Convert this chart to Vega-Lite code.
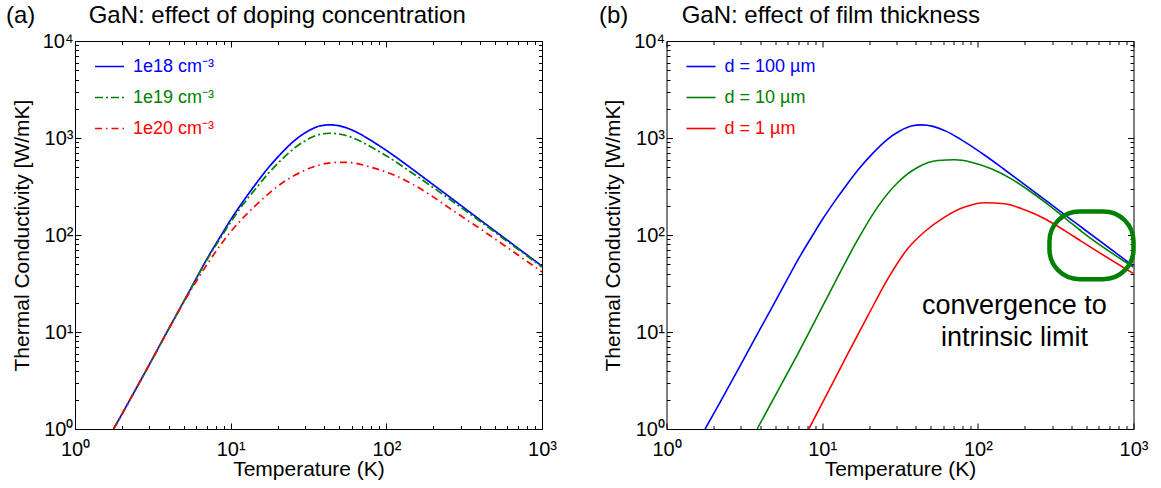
{
  "$schema": "https://vega.github.io/schema/vega-lite/v6.json",
  "padding": {"left": 5, "top": 3, "right": 0, "bottom": 0},
  "background": "white",
  "config": {
    "font": "Liberation Sans",
    "view": {"stroke": "black", "strokeWidth": 1},
    "axis": {"domain": false, "grid": false, "labelFont": "Liberation Sans", "labelFontSize": 20, "labelColor": "black", "tickColor": "black", "tickWidth": 1, "titleFont": "Liberation Sans", "titleFontSize": 21, "titleFontWeight": "normal", "titleColor": "black", "labelFlush": false, "labelOverlap": false, "labelBound": false},
    "legend": {"title": null, "orient": "none", "legendX": 19, "legendY": 10, "symbolType": "stroke", "symbolSize": 841, "symbolStrokeWidth": 1.6, "labelFont": "Liberation Sans", "labelFontSize": 18, "labelOffset": 8, "rowPadding": 6, "padding": 0},
    "title": {"font": "Liberation Sans", "fontSize": 24, "fontWeight": "normal", "color": "black", "anchor": "start", "frame": "group", "baseline": "alphabetic", "offset": 3}
  },
  "datasets": {
    "a": [
      {"s": "1e18 cm⁻³", "T": 1.77, "k": 1.0}, {"s": "1e18 cm⁻³", "T": 2.18, "k": 1.82}, {"s": "1e18 cm⁻³", "T": 2.94, "k": 4.34}, {"s": "1e18 cm⁻³", "T": 3.95, "k": 10.4}, {"s": "1e18 cm⁻³", "T": 5.32, "k": 24.8}, {"s": "1e18 cm⁻³", "T": 7.15, "k": 59.1}, {"s": "1e18 cm⁻³", "T": 8.71, "k": 100}, {"s": "1e18 cm⁻³", "T": 10.1, "k": 147}, {"s": "1e18 cm⁻³", "T": 12.0, "k": 221}, {"s": "1e18 cm⁻³", "T": 14.3, "k": 326}, {"s": "1e18 cm⁻³", "T": 17.4, "k": 490}, {"s": "1e18 cm⁻³", "T": 21.2, "k": 698}, {"s": "1e18 cm⁻³", "T": 25.8, "k": 947}, {"s": "1e18 cm⁻³", "T": 31.5, "k": 1180}, {"s": "1e18 cm⁻³", "T": 37.4, "k": 1330}, {"s": "1e18 cm⁻³", "T": 43.4, "k": 1365}, {"s": "1e18 cm⁻³", "T": 51.6, "k": 1318}, {"s": "1e18 cm⁻³", "T": 62.9, "k": 1170}, {"s": "1e18 cm⁻³", "T": 76.7, "k": 979}, {"s": "1e18 cm⁻³", "T": 93.4, "k": 801}, {"s": "1e18 cm⁻³", "T": 113.8, "k": 645}, {"s": "1e18 cm⁻³", "T": 145.8, "k": 482}, {"s": "1e18 cm⁻³", "T": 186.6, "k": 359}, {"s": "1e18 cm⁻³", "T": 238.9, "k": 267}, {"s": "1e18 cm⁻³", "T": 305.9, "k": 198}, {"s": "1e18 cm⁻³", "T": 391.6, "k": 147}, {"s": "1e18 cm⁻³", "T": 477, "k": 116}, {"s": "1e18 cm⁻³", "T": 1000, "k": 47.8},
      {"s": "1e19 cm⁻³", "T": 1.77, "k": 1.0}, {"s": "1e19 cm⁻³", "T": 2.18, "k": 1.82}, {"s": "1e19 cm⁻³", "T": 2.94, "k": 4.34}, {"s": "1e19 cm⁻³", "T": 3.95, "k": 10.4}, {"s": "1e19 cm⁻³", "T": 5.32, "k": 24.7}, {"s": "1e19 cm⁻³", "T": 7.15, "k": 58}, {"s": "1e19 cm⁻³", "T": 8.71, "k": 96}, {"s": "1e19 cm⁻³", "T": 10.1, "k": 139}, {"s": "1e19 cm⁻³", "T": 12.0, "k": 206}, {"s": "1e19 cm⁻³", "T": 14.3, "k": 293}, {"s": "1e19 cm⁻³", "T": 17.4, "k": 429}, {"s": "1e19 cm⁻³", "T": 21.2, "k": 597}, {"s": "1e19 cm⁻³", "T": 25.8, "k": 791}, {"s": "1e19 cm⁻³", "T": 31.5, "k": 974}, {"s": "1e19 cm⁻³", "T": 37.4, "k": 1091}, {"s": "1e19 cm⁻³", "T": 43.4, "k": 1119}, {"s": "1e19 cm⁻³", "T": 51.6, "k": 1087}, {"s": "1e19 cm⁻³", "T": 62.9, "k": 983}, {"s": "1e19 cm⁻³", "T": 76.7, "k": 837}, {"s": "1e19 cm⁻³", "T": 93.4, "k": 701}, {"s": "1e19 cm⁻³", "T": 113.8, "k": 574}, {"s": "1e19 cm⁻³", "T": 145.8, "k": 439}, {"s": "1e19 cm⁻³", "T": 186.6, "k": 334}, {"s": "1e19 cm⁻³", "T": 238.9, "k": 252}, {"s": "1e19 cm⁻³", "T": 305.9, "k": 189}, {"s": "1e19 cm⁻³", "T": 391.6, "k": 142}, {"s": "1e19 cm⁻³", "T": 477, "k": 112.5}, {"s": "1e19 cm⁻³", "T": 1000, "k": 46.8},
      {"s": "1e20 cm⁻³", "T": 1.77, "k": 1.0}, {"s": "1e20 cm⁻³", "T": 2.18, "k": 1.82}, {"s": "1e20 cm⁻³", "T": 2.94, "k": 4.33}, {"s": "1e20 cm⁻³", "T": 3.95, "k": 10.3}, {"s": "1e20 cm⁻³", "T": 5.32, "k": 24.0}, {"s": "1e20 cm⁻³", "T": 6.17, "k": 35.5}, {"s": "1e20 cm⁻³", "T": 7.15, "k": 51.5}, {"s": "1e20 cm⁻³", "T": 8.71, "k": 81}, {"s": "1e20 cm⁻³", "T": 10.1, "k": 110}, {"s": "1e20 cm⁻³", "T": 12.0, "k": 150}, {"s": "1e20 cm⁻³", "T": 14.3, "k": 198}, {"s": "1e20 cm⁻³", "T": 17.4, "k": 264}, {"s": "1e20 cm⁻³", "T": 21.2, "k": 340}, {"s": "1e20 cm⁻³", "T": 25.8, "k": 413}, {"s": "1e20 cm⁻³", "T": 31.5, "k": 481}, {"s": "1e20 cm⁻³", "T": 37.4, "k": 528}, {"s": "1e20 cm⁻³", "T": 43.4, "k": 555}, {"s": "1e20 cm⁻³", "T": 51.6, "k": 562}, {"s": "1e20 cm⁻³", "T": 62.9, "k": 550}, {"s": "1e20 cm⁻³", "T": 76.7, "k": 508}, {"s": "1e20 cm⁻³", "T": 93.4, "k": 462}, {"s": "1e20 cm⁻³", "T": 113.8, "k": 411}, {"s": "1e20 cm⁻³", "T": 145.8, "k": 337}, {"s": "1e20 cm⁻³", "T": 186.6, "k": 266}, {"s": "1e20 cm⁻³", "T": 238.9, "k": 203}, {"s": "1e20 cm⁻³", "T": 305.9, "k": 155}, {"s": "1e20 cm⁻³", "T": 391.6, "k": 119}, {"s": "1e20 cm⁻³", "T": 477, "k": 95.7}, {"s": "1e20 cm⁻³", "T": 1000, "k": 41.6}
    ],
    "b": [
      {"s": "d = 100 µm", "T": 1.77, "k": 1.0}, {"s": "d = 100 µm", "T": 2.18, "k": 1.82}, {"s": "d = 100 µm", "T": 2.94, "k": 4.34}, {"s": "d = 100 µm", "T": 3.95, "k": 10.4}, {"s": "d = 100 µm", "T": 5.32, "k": 24.8}, {"s": "d = 100 µm", "T": 7.15, "k": 59.1}, {"s": "d = 100 µm", "T": 8.71, "k": 100}, {"s": "d = 100 µm", "T": 10.1, "k": 147}, {"s": "d = 100 µm", "T": 12.0, "k": 221}, {"s": "d = 100 µm", "T": 14.3, "k": 326}, {"s": "d = 100 µm", "T": 17.4, "k": 490}, {"s": "d = 100 µm", "T": 21.2, "k": 698}, {"s": "d = 100 µm", "T": 25.8, "k": 947}, {"s": "d = 100 µm", "T": 31.5, "k": 1180}, {"s": "d = 100 µm", "T": 37.4, "k": 1330}, {"s": "d = 100 µm", "T": 43.4, "k": 1365}, {"s": "d = 100 µm", "T": 51.6, "k": 1318}, {"s": "d = 100 µm", "T": 62.9, "k": 1170}, {"s": "d = 100 µm", "T": 76.7, "k": 979}, {"s": "d = 100 µm", "T": 93.4, "k": 801}, {"s": "d = 100 µm", "T": 113.8, "k": 645}, {"s": "d = 100 µm", "T": 145.8, "k": 482}, {"s": "d = 100 µm", "T": 186.6, "k": 359}, {"s": "d = 100 µm", "T": 238.9, "k": 267}, {"s": "d = 100 µm", "T": 305.9, "k": 198}, {"s": "d = 100 µm", "T": 391.6, "k": 147}, {"s": "d = 100 µm", "T": 477, "k": 116}, {"s": "d = 100 µm", "T": 1000, "k": 47.8},
      {"s": "d = 10 µm", "T": 3.82, "k": 1.0}, {"s": "d = 10 µm", "T": 5.19, "k": 2.47}, {"s": "d = 10 µm", "T": 6.98, "k": 5.96}, {"s": "d = 10 µm", "T": 9.38, "k": 14.8}, {"s": "d = 10 µm", "T": 12.6, "k": 37}, {"s": "d = 10 µm", "T": 16.96, "k": 90}, {"s": "d = 10 µm", "T": 22.8, "k": 196}, {"s": "d = 10 µm", "T": 30.7, "k": 350}, {"s": "d = 10 µm", "T": 41.2, "k": 500}, {"s": "d = 10 µm", "T": 55.4, "k": 586}, {"s": "d = 10 µm", "T": 71, "k": 596}, {"s": "d = 10 µm", "T": 90.8, "k": 563}, {"s": "d = 10 µm", "T": 122, "k": 481}, {"s": "d = 10 µm", "T": 164, "k": 379}, {"s": "d = 10 µm", "T": 221, "k": 276}, {"s": "d = 10 µm", "T": 297, "k": 194}, {"s": "d = 10 µm", "T": 380, "k": 141}, {"s": "d = 10 µm", "T": 463, "k": 109}, {"s": "d = 10 µm", "T": 1000, "k": 46.5},
      {"s": "d = 1 µm", "T": 8.21, "k": 1.0}, {"s": "d = 1 µm", "T": 10.9, "k": 2.4}, {"s": "d = 1 µm", "T": 14.6, "k": 5.96}, {"s": "d = 1 µm", "T": 19.7, "k": 14.8}, {"s": "d = 1 µm", "T": 26.4, "k": 35.3}, {"s": "d = 1 µm", "T": 35.6, "k": 73}, {"s": "d = 1 µm", "T": 45.5, "k": 108}, {"s": "d = 1 µm", "T": 61.2, "k": 153}, {"s": "d = 1 µm", "T": 82.3, "k": 194}, {"s": "d = 1 µm", "T": 110.7, "k": 215}, {"s": "d = 1 µm", "T": 148.8, "k": 210}, {"s": "d = 1 µm", "T": 200, "k": 182}, {"s": "d = 1 µm", "T": 269, "k": 147}, {"s": "d = 1 µm", "T": 362, "k": 111}, {"s": "d = 1 µm", "T": 463, "k": 86}, {"s": "d = 1 µm", "T": 1000, "k": 40}
    ],
    "note": [{"T": 171.7, "k": 15.5, "label": "convergence to\nintrinsic limit"}],
    "ring": [{"T1": 288.5, "T2": 1000, "k1": 35, "k2": 175}]
  },
  "hconcat": [
    {
      "width": 467, "height": 388,
      "title": {"text": "(a)\u00a0\u00a0\u00a0\u00a0\u00a0\u00a0\u00a0\u00a0GaN: effect of doping concentration", "dx": -69},
      "data": {"name": "a"},
      "layer": [
        {
          "mark": {"type": "line", "clip": true, "strokeWidth": 1.7, "interpolate": "monotone"},
          "encoding": {
            "x": {"field": "T", "type": "quantitative", "scale": {"type": "log", "domain": [1, 1000], "nice": false},
              "axis": {"orient": "bottom", "values": [1,2,3,4,5,6,7,8,9,10,20,30,40,50,60,70,80,90,100,200,300,400,500,600,700,800,900,1000],
                "labelExpr": "abs(log(datum.value)/LN10 - round(log(datum.value)/LN10)) < 0.01 ? '10' + ['⁰','¹','²','³','⁴'][round(log(datum.value)/LN10)] : ''",
                "tickSize": {"expr": "abs(log(datum.value)/LN10 - round(log(datum.value)/LN10)) < 0.01 ? -6 : -3.5"},
                "labelPadding": 16, "title": "Temperature (K)", "titlePadding": -3}},
            "y": {"field": "k", "type": "quantitative", "scale": {"type": "log", "domain": [1, 10000], "nice": false},
              "axis": {"orient": "left", "values": [1,2,3,4,5,6,7,8,9,10,20,30,40,50,60,70,80,90,100,200,300,400,500,600,700,800,900,1000,2000,3000,4000,5000,6000,7000,8000,9000,10000],
                "labelExpr": "abs(log(datum.value)/LN10 - round(log(datum.value)/LN10)) < 0.01 ? '10' + ['⁰','¹','²','³','⁴'][round(log(datum.value)/LN10)] : ''",
                "tickSize": {"expr": "abs(log(datum.value)/LN10 - round(log(datum.value)/LN10)) < 0.01 ? -6 : -3.5"},
                "labelPadding": 8, "title": "Thermal Conductivity [W/mK]", "titlePadding": 10}},
            "color": {"field": "s", "type": "nominal", "scale": {"domain": ["1e18 cm⁻³", "1e19 cm⁻³", "1e20 cm⁻³"], "range": ["#0000ff", "#008000", "#ff0000"]},
              "legend": {"encode": {"labels": {"update": {"fill": {"signal": "datum.value === '1e18 cm⁻³' ? '#0000ff' : datum.value === '1e19 cm⁻³' ? '#008000' : '#ff0000'"}}}}}},
            "strokeDash": {"field": "s", "type": "nominal", "scale": {"domain": ["1e18 cm⁻³", "1e19 cm⁻³", "1e20 cm⁻³"], "range": [[1, 0], [8, 3, 2, 3], [7, 4, 1.5, 4]]},
              "legend": {"encode": {"labels": {"update": {"fill": {"signal": "datum.value === '1e18 cm⁻³' ? '#0000ff' : datum.value === '1e19 cm⁻³' ? '#008000' : '#ff0000'"}}}}}}
          }
        },
        {
          "mark": {"type": "line", "opacity": 0},
          "encoding": {
            "x": {"field": "T", "type": "quantitative", "scale": {"type": "log", "domain": [1, 1000], "nice": false},
              "axis": {"orient": "top", "values": [1,2,3,4,5,6,7,8,9,10,20,30,40,50,60,70,80,90,100,200,300,400,500,600,700,800,900,1000], "labels": false, "title": null,
                "tickSize": {"expr": "abs(log(datum.value)/LN10 - round(log(datum.value)/LN10)) < 0.01 ? -6 : -3.5"}}},
            "y": {"field": "k", "type": "quantitative", "scale": {"type": "log", "domain": [1, 10000], "nice": false},
              "axis": {"orient": "right", "values": [1,2,3,4,5,6,7,8,9,10,20,30,40,50,60,70,80,90,100,200,300,400,500,600,700,800,900,1000,2000,3000,4000,5000,6000,7000,8000,9000,10000], "labels": false, "title": null,
                "tickSize": {"expr": "abs(log(datum.value)/LN10 - round(log(datum.value)/LN10)) < 0.01 ? -6 : -3.5"}}}
          }
        }
      ],
      "resolve": {"axis": {"x": "independent", "y": "independent"}}
    },
    {
      "width": 467, "height": 388,
      "title": {"text": "(b)\u00a0\u00a0\u00a0\u00a0\u00a0\u00a0\u00a0\u00a0GaN: effect of film thickness", "dx": -67.5},
      "layer": [
        {
          "data": {"name": "b"},
          "mark": {"type": "line", "clip": true, "strokeWidth": 1.6, "interpolate": "monotone"},
          "encoding": {
            "x": {"field": "T", "type": "quantitative", "scale": {"type": "log", "domain": [1, 1000], "nice": false},
              "axis": {"orient": "bottom", "values": [1,2,3,4,5,6,7,8,9,10,20,30,40,50,60,70,80,90,100,200,300,400,500,600,700,800,900,1000],
                "labelExpr": "abs(log(datum.value)/LN10 - round(log(datum.value)/LN10)) < 0.01 ? '10' + ['⁰','¹','²','³','⁴'][round(log(datum.value)/LN10)] : ''",
                "tickSize": {"expr": "abs(log(datum.value)/LN10 - round(log(datum.value)/LN10)) < 0.01 ? -6 : -3.5"},
                "labelPadding": 16, "title": "Temperature (K)", "titlePadding": -3}},
            "y": {"field": "k", "type": "quantitative", "scale": {"type": "log", "domain": [1, 10000], "nice": false},
              "axis": {"orient": "left", "values": [1,2,3,4,5,6,7,8,9,10,20,30,40,50,60,70,80,90,100,200,300,400,500,600,700,800,900,1000,2000,3000,4000,5000,6000,7000,8000,9000,10000],
                "labelExpr": "abs(log(datum.value)/LN10 - round(log(datum.value)/LN10)) < 0.01 ? '10' + ['⁰','¹','²','³','⁴'][round(log(datum.value)/LN10)] : ''",
                "tickSize": {"expr": "abs(log(datum.value)/LN10 - round(log(datum.value)/LN10)) < 0.01 ? -6 : -3.5"},
                "labelPadding": 8, "title": "Thermal Conductivity [W/mK]", "titlePadding": 10}},
            "color": {"field": "s", "type": "nominal", "scale": {"domain": ["d = 100 µm", "d = 10 µm", "d = 1 µm"], "range": ["#0000ff", "#008000", "#ff0000"]},
              "legend": {"encode": {"labels": {"update": {"fill": {"signal": "datum.value === 'd = 100 µm' ? '#0000ff' : datum.value === 'd = 10 µm' ? '#008000' : '#ff0000'"}}}}}}
          }
        },
        {
          "data": {"name": "b"},
          "mark": {"type": "line", "opacity": 0},
          "encoding": {
            "x": {"field": "T", "type": "quantitative", "scale": {"type": "log", "domain": [1, 1000], "nice": false},
              "axis": {"orient": "top", "values": [1,2,3,4,5,6,7,8,9,10,20,30,40,50,60,70,80,90,100,200,300,400,500,600,700,800,900,1000], "labels": false, "title": null,
                "tickSize": {"expr": "abs(log(datum.value)/LN10 - round(log(datum.value)/LN10)) < 0.01 ? -6 : -3.5"}}},
            "y": {"field": "k", "type": "quantitative", "scale": {"type": "log", "domain": [1, 10000], "nice": false},
              "axis": {"orient": "right", "values": [1,2,3,4,5,6,7,8,9,10,20,30,40,50,60,70,80,90,100,200,300,400,500,600,700,800,900,1000,2000,3000,4000,5000,6000,7000,8000,9000,10000], "labels": false, "title": null,
                "tickSize": {"expr": "abs(log(datum.value)/LN10 - round(log(datum.value)/LN10)) < 0.01 ? -6 : -3.5"}}}
          }
        },
        {
          "data": {"name": "note"},
          "mark": {"type": "text", "align": "center", "baseline": "alphabetic", "fontSize": 27, "lineBreak": "\n", "lineHeight": 32, "color": "black", "font": "Liberation Sans"},
          "encoding": {
            "x": {"field": "T", "type": "quantitative", "scale": {"type": "log", "domain": [1, 1000], "nice": false}, "axis": null},
            "y": {"field": "k", "type": "quantitative", "scale": {"type": "log", "domain": [1, 10000], "nice": false}, "axis": null},
            "text": {"field": "label"}
          }
        },
        {
          "data": {"name": "ring"},
          "mark": {"type": "rect", "fill": null, "stroke": "#008000", "strokeWidth": 4.5, "cornerRadius": 30, "clip": false},
          "encoding": {
            "x": {"field": "T1", "type": "quantitative", "scale": {"type": "log", "domain": [1, 1000], "nice": false}, "axis": null},
            "x2": {"field": "T2"},
            "y": {"field": "k1", "type": "quantitative", "scale": {"type": "log", "domain": [1, 10000], "nice": false}, "axis": null},
            "y2": {"field": "k2"}
          }
        }
      ],
      "resolve": {"axis": {"x": "independent", "y": "independent"}}
    }
  ],
  "spacing": 124.5,
  "bounds": "flush",
  "resolve": {"scale": {"color": "independent", "strokeDash": "independent"}}
}
